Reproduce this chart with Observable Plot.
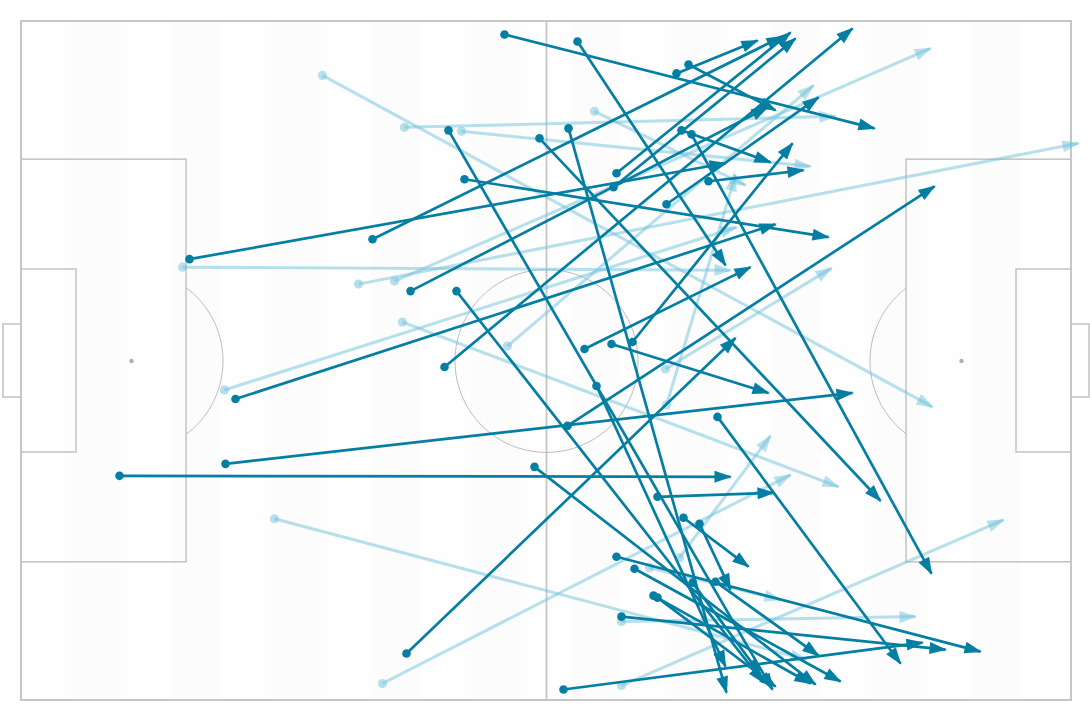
<!DOCTYPE html>
<html>
<head>
<meta charset="utf-8">
<script src="https://cdn.jsdelivr.net/npm/d3@7"></script>
<script src="https://cdn.jsdelivr.net/npm/@observablehq/plot@0.6"></script>
<style>
  html, body { margin: 0; padding: 0; background: #ffffff; }
  #chart svg { display: block; }
</style>
</head>
<body>
<div id="chart"></div>
<script>
// Passes in pitch metres: [startX, startY, endX, endY], y measured from the top touchline
const successfulPasses = [
  [48.3, 1.3, 85.3, 10.7], [55.6, 2.0, 70.4, 24.4], [65.5, 5.2, 73.6, 1.9], [66.7, 4.3, 75.4, 8.9],
  [42.7, 10.9, 75.1, 66.9], [51.8, 11.7, 85.9, 48.0], [54.7, 10.7, 70.5, 67.2], [66.0, 10.9, 74.9, 14.1],
  [67.0, 11.3, 91.0, 55.3], [59.5, 15.2, 76.9, 1.1], [59.2, 16.6, 77.4, 1.7], [44.3, 15.8, 80.7, 21.6],
  [64.5, 18.3, 79.7, 7.6], [68.7, 16.0, 78.2, 14.9], [35.1, 21.8, 76.1, 1.5], [16.8, 23.8, 70.4, 14.2],
  [38.9, 27.0, 74.6, 8.6], [43.5, 27.0, 74.2, 66.2], [42.3, 34.6, 83.1, 0.7], [56.3, 32.8, 72.9, 24.6],
  [59.0, 32.3, 74.7, 37.2], [61.1, 32.1, 77.1, 12.2], [57.5, 36.5, 70.4, 64.6], [21.4, 37.8, 75.4, 20.3],
  [54.6, 40.5, 91.3, 16.5], [69.6, 39.6, 87.9, 64.3], [20.4, 44.3, 83.1, 37.2], [9.8, 45.5, 70.9, 45.6],
  [51.3, 44.6, 79.4, 66.4], [63.6, 47.6, 75.2, 47.2], [66.2, 49.7, 72.7, 54.6], [67.8, 50.3, 70.9, 56.9],
  [59.5, 53.6, 95.9, 63.1], [61.3, 54.8, 81.9, 66.1], [63.2, 57.5, 78.9, 66.3], [63.6, 57.7, 75.4, 66.6],
  [67.1, 56.2, 73.9, 65.4], [69.4, 56.1, 79.7, 63.5], [60.0, 59.6, 92.4, 62.9], [38.5, 63.3, 71.4, 31.7],
  [54.2, 66.9, 90.1, 62.2]
];
const otherPasses = [
  [30.1, 5.4, 91.1, 38.6], [38.3, 10.6, 81.4, 9.5], [44.0, 11.0, 78.9, 14.5], [57.3, 9.0, 72.4, 16.4],
  [16.1, 24.6, 70.9, 24.9], [33.7, 26.3, 105.7, 12.2], [37.3, 26.0, 90.9, 2.7], [38.1, 30.1, 81.7, 46.6],
  [20.3, 36.9, 71.5, 20.6], [48.6, 32.5, 79.2, 6.4], [64.4, 34.8, 81.0, 24.7], [64.5, 38.4, 71.4, 15.4],
  [25.3, 49.8, 78.5, 63.9], [36.1, 66.3, 76.9, 45.4], [60.0, 66.5, 98.2, 49.9], [62.8, 54.7, 75.9, 57.9],
  [65.8, 53.7, 74.9, 41.5], [60.0, 60.1, 89.4, 59.6]
];

const darkColor = "#057ea3";
const lightColor = "#6fc1db";
const lineColor = "#c6c6c6";

// Pitch geometry (105 x 68 m)
const L = 105, W = 68;
const stripes = d3.range(0, L, 5).map((x, i) => ({x1: x, x2: Math.min(x + 5, L), even: i % 2 === 0}));
const boxes = [
  {x1: 0, x2: 16.5, y1: 13.84, y2: 54.16}, {x1: L - 16.5, x2: L, y1: 13.84, y2: 54.16},
  {x1: 0, x2: 5.5, y1: 24.84, y2: 43.16}, {x1: L - 5.5, x2: L, y1: 24.84, y2: 43.16},
  {x1: -1.8, x2: 0, y1: 30.34, y2: 37.66}, {x1: L, x2: L + 1.8, y1: 30.34, y2: 37.66}
];
const R = 9.15;
const circlePts = d3.range(0, 361, 3).map(a => ({x: L / 2 + R * Math.cos(a * Math.PI / 180), y: W / 2 + R * Math.sin(a * Math.PI / 180)}));
const arcA = Math.acos(5.5 / R) * 180 / Math.PI;
const leftArc = d3.range(-arcA, arcA + 0.01, arcA / 20).map(a => ({x: 11 + R * Math.cos(a * Math.PI / 180), y: W / 2 + R * Math.sin(a * Math.PI / 180)}));
const rightArc = leftArc.map(p => ({x: L - p.x, y: p.y}));
const spots = [{x: 11, y: W / 2}, {x: L - 11, y: W / 2}];

const svg = Plot.plot({
  width: 1090,
  height: 720,
  marginLeft: 21,
  marginRight: 19,
  marginTop: 21,
  marginBottom: 20,
  x: {domain: [0, L], axis: null},
  y: {domain: [W, 0], axis: null},
  style: {background: "#ffffff", overflow: "visible"},
  marks: [
    Plot.rect(stripes, {x1: "x1", x2: "x2", y1: 0, y2: W, fill: d => d.even ? "#fefefe" : "#fcfcfc"}),
    Plot.rect([{}], {x1: 0, x2: L, y1: 0, y2: W, fill: "none", stroke: lineColor, strokeWidth: 2}),
    Plot.rect(boxes, {x1: "x1", x2: "x2", y1: "y1", y2: "y2", fill: "none", stroke: lineColor, strokeWidth: 1.6}),
    Plot.ruleX([L / 2], {y1: 0, y2: W, stroke: lineColor, strokeWidth: 1.8}),
    Plot.line(circlePts, {x: "x", y: "y", stroke: "#bcbcbc", strokeWidth: 1}),
    Plot.line(leftArc, {x: "x", y: "y", stroke: "#bcbcbc", strokeWidth: 1}),
    Plot.line(rightArc, {x: "x", y: "y", stroke: "#bcbcbc", strokeWidth: 1}),
    Plot.dot(spots, {x: "x", y: "y", r: 2.2, fill: "#b0b0b0"}),
    Plot.link(otherPasses, {x1: d => d[0], y1: d => d[1], x2: d => d[2], y2: d => d[3], stroke: lightColor, strokeOpacity: 0.5, strokeWidth: 3, markerEnd: "arrow"}),
    Plot.dot(otherPasses, {x: d => d[0], y: d => d[1], r: 4.6, fill: lightColor, fillOpacity: 0.5}),
    Plot.link(successfulPasses, {x1: d => d[0], y1: d => d[1], x2: d => d[2], y2: d => d[3], stroke: darkColor, strokeWidth: 2.7, markerEnd: "arrow"}),
    Plot.dot(successfulPasses, {x: d => d[0], y: d => d[1], r: 4.3, fill: darkColor})
  ]
});

// Filled triangular arrowheads
d3.select(svg).selectAll("marker").each(function () {
  const m = d3.select(this);
  const color = m.attr("stroke");
  const op = this.parentNode.getAttribute("stroke-opacity") || 1;
  m.attr("viewBox", "-18 -8 20 16")
    .attr("markerWidth", 20).attr("markerHeight", 16)
    .attr("markerUnits", "userSpaceOnUse")
    .attr("refX", 0).attr("refY", 0)
    .attr("orient", "auto")
    .attr("fill", color).attr("fill-opacity", op)
    .attr("stroke", "none");
  m.selectAll("*").remove();
  m.append("path").attr("d", "M-16,-6L1.5,0L-16,6Z");
});

document.getElementById("chart").appendChild(svg);
</script>
</body>
</html>
